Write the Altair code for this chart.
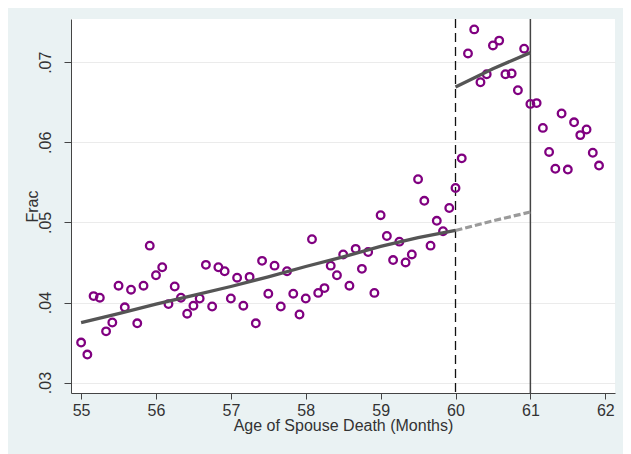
import altair as alt
import pandas as pd

# Monthly bins: age of spouse death from 55y0m to 61y11m
age = [55 + m / 12 for m in range(84)]
frac = [
    0.0350, 0.0335, 0.0408, 0.0406, 0.0364, 0.0375, 0.0421, 0.0394, 0.0416, 0.0374, 0.0421, 0.0471,
    0.0434, 0.0444, 0.0398, 0.0420, 0.0406, 0.0386, 0.0396, 0.0405, 0.0447, 0.0395, 0.0444, 0.0439,
    0.0405, 0.0431, 0.0396, 0.0432, 0.0374, 0.0452, 0.0411, 0.0446, 0.0395, 0.0439, 0.0411, 0.0385,
    0.0405, 0.0479, 0.0412, 0.0418, 0.0446, 0.0434, 0.0460, 0.0421, 0.0467, 0.0442, 0.0463, 0.0412,
    0.0509, 0.0483, 0.0453, 0.0476, 0.0450, 0.0460, 0.0554, 0.0527, 0.0471, 0.0502, 0.0489, 0.0518,
    0.0543, 0.0580, 0.0711, 0.0741, 0.0675, 0.0685, 0.0721, 0.0727, 0.0685, 0.0686, 0.0665, 0.0717,
    0.0648, 0.0649, 0.0618, 0.0588, 0.0567, 0.0636, 0.0566, 0.0625, 0.0609, 0.0616, 0.0587, 0.0571,
]

# Fitted lines
fit_pre_x = [55.0, 55.5, 56.0, 56.5, 57.0, 57.5, 58.0, 58.5, 59.0, 59.5, 60.0]
fit_pre_y = [0.0375, 0.0386, 0.0398, 0.0409, 0.0420, 0.0432, 0.0445, 0.0457, 0.0470, 0.0481, 0.0490]
fit_ext_x = [60.0, 60.5, 61.0]
fit_ext_y = [0.0490, 0.0502, 0.0513]
fit_post_x = [60.0, 60.5, 61.0]
fit_post_y = [0.0669, 0.0692, 0.0712]

cutoffs_dashed = [60]
cutoffs_solid = [61]

x_ticks = [55, 56, 57, 58, 59, 60, 61, 62]
y_ticks = [0.03, 0.04, 0.05, 0.06, 0.07]

FONT = "Liberation Sans"
pts = pd.DataFrame({"age": age, "frac": frac})
pre = pd.DataFrame({"age": fit_pre_x, "frac": fit_pre_y})
ext = pd.DataFrame({"age": fit_ext_x, "frac": fit_ext_y})
post = pd.DataFrame({"age": fit_post_x, "frac": fit_post_y})

xscale = alt.Scale(domain=[54.865, 62.13], nice=False, zero=False)
yscale = alt.Scale(domain=[0.0287, 0.0754], nice=False, zero=False)

xaxis = alt.Axis(
    values=x_ticks, format="d", title="Age of Spouse Death (Months)", grid=False,
    domainColor="#444444", tickColor="#444444", tickSize=6, labelPadding=3,
    labelFont=FONT, labelFontSize=16, labelColor="#333333",
    titleFont=FONT, titleFontSize=16, titleColor="#333333", titleFontWeight="normal",
    titleBaseline="alphabetic", titleY=37, labelFlush=False,
)
yaxis = alt.Axis(
    values=y_ticks, title="Frac", grid=True, gridColor="#EBEBEB",
    domainColor="#444444", tickColor="#444444", tickSize=7,
    labelExpr="substring(format(datum.value, '.2f'), 1)",
    labelAngle=-90, labelAlign="center", labelBaseline="alphabetic", labelPadding=14,
    labelFont=FONT, labelFontSize=16, labelColor="#333333",
    titleFont=FONT, titleFontSize=16, titleColor="#333333", titleFontWeight="normal",
    titleBaseline="alphabetic", titleX=-34, titleY=187, labelFlush=False,
)

base_x = alt.X("age:Q", scale=xscale, axis=xaxis)
base_y = alt.Y("frac:Q", scale=yscale, axis=yaxis)

points = alt.Chart(pts).mark_point(
    shape="circle", filled=False, color="#800080", size=58, strokeWidth=2.3, opacity=1
).encode(x=base_x, y=base_y)

line_pre = alt.Chart(pre).mark_line(color="#555555", strokeWidth=3.3).encode(
    x=alt.X("age:Q", scale=xscale), y=alt.Y("frac:Q", scale=yscale))
line_ext = alt.Chart(ext).mark_line(color="#9A9A9A", strokeWidth=3.2, strokeDash=[7, 3]).encode(
    x=alt.X("age:Q", scale=xscale), y=alt.Y("frac:Q", scale=yscale))
line_post = alt.Chart(post).mark_line(color="#555555", strokeWidth=3.3).encode(
    x=alt.X("age:Q", scale=xscale), y=alt.Y("frac:Q", scale=yscale))

rule_dash = alt.Chart(pd.DataFrame({"age": cutoffs_dashed})).mark_rule(
    color="#111111", strokeWidth=1.3, strokeDash=[9, 5]).encode(x=alt.X("age:Q", scale=xscale))
rule_solid = alt.Chart(pd.DataFrame({"age": cutoffs_solid})).mark_rule(
    color="#444444", strokeWidth=1.5).encode(x=alt.X("age:Q", scale=xscale))

chart = alt.layer(rule_dash, rule_solid, points, line_pre, line_ext, line_post).properties(
    width=544, height=374,
    autosize=alt.AutoSizeParams(type="none"),
    padding={"left": 63, "top": 11, "right": 8, "bottom": 61},
    background="#EAF2F3",
).configure_view(fill="white", stroke=None)

chart.save("out.html", embed_options={"renderer": "svg", "actions": False})
